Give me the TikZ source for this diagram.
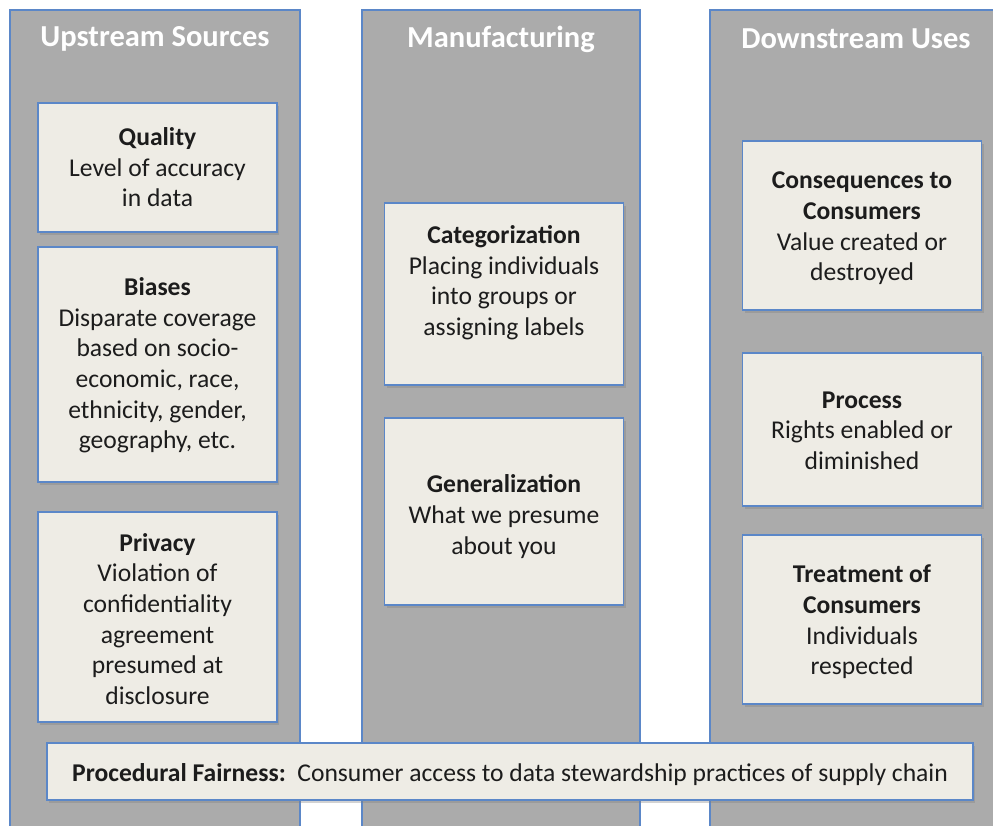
\documentclass[tikz,border=0pt]{standalone}
\usepackage{fontspec}
\setmainfont{Carlito}
\usetikzlibrary{shadows}
\definecolor{colgray}{HTML}{ABABAB}
\definecolor{cardfill}{HTML}{EEECE5}
\definecolor{edgeblue}{HTML}{5B87C8}
\definecolor{inktext}{HTML}{1C1C1C}
\begin{document}
\begin{tikzpicture}[x=1pt,y=-1pt,
    column/.style={fill=colgray,draw=edgeblue,line width=1.8pt},
    coltitle/.style={text=white,font=\fontsize{30.5}{34}\selectfont\bfseries},
    card/.style={rectangle,fill=cardfill,draw=edgeblue,line width=1.8pt,minimum width=239pt,
        drop shadow={shadow xshift=2pt,shadow yshift=-3pt,opacity=0.35}},
    cardtext/.style={align=center,text=inktext,font=\fontsize{25.6}{30.6}\selectfont}]
    \useasboundingbox (0,0) rectangle (993,826);
    \clip (0,0) rectangle (993,826);
    \fill[white](0,0)rectangle(993,826);
    % three stages of the chain
    \draw[column](10,10)rectangle(300,850);
    \draw[column](362,10)rectangle(640,850);
    \draw[column](710,10)rectangle(1010,850);
    \node[coltitle](up)at(155,39){Upstream Sources};
    \node[coltitle](mid)at(501,39){Manufacturing};
    \node[coltitle](down)at(856,39){Downstream Uses};
    % upstream
    \node[card,minimum height=129pt](quality)at(157.5,167.5){};
    \node[cardtext](quality-t)at(quality){\textbf{Quality}\\Level of accuracy\\in data};
    \node[card,minimum height=235pt](biases)at(157.5,364.5){};
    \node[cardtext](biases-t)at([yshift=-1pt]biases.center){\textbf{Biases}\\Disparate coverage\\based on socio-\\economic, race,\\ethnicity, gender,\\geography, etc.};
    \node[card,minimum height=210pt](privacy)at(157.5,617){};
    \node[cardtext](privacy-t)at([yshift=-2pt]privacy.center){\textbf{Privacy}\\Violation of\\confidentiality\\agreement\\presumed at\\disclosure};
    % manufacturing
    \node[card,minimum height=182pt](categ)at(504,294){};
    \node[cardtext](categ-t)at([yshift=11.5pt]categ.center){\textbf{Categorization}\\Placing individuals\\into groups or\\assigning labels};
    \node[card,minimum height=187pt](general)at(504,511.5){};
    \node[cardtext](general-t)at([yshift=-5pt]general.center){\textbf{Generalization}\\What we presume\\about you};
    % downstream
    \node[card,minimum height=169pt](conseq)at(862,225.5){};
    \node[cardtext](conseq-t)at([yshift=-3pt]conseq.center){\textbf{Consequences to}\\\textbf{Consumers}\\Value created or\\destroyed};
    \node[card,minimum height=153pt](process)at(862,429.5){};
    \node[cardtext](process-t)at([yshift=-1pt]process.center){\textbf{Process}\\Rights enabled or\\diminished};
    \node[card,minimum height=169pt](treat)at(862,619.5){};
    \node[cardtext](treat-t)at([yshift=-2.5pt]treat.center){\textbf{Treatment of}\\\textbf{Consumers}\\Individuals\\respected};
    \node[card,minimum width=926pt,minimum height=57pt](fair)at(510,771.5){};
    \node[cardtext](fair-t)at([yshift=-3pt]fair.center){\textbf{Procedural Fairness:}\ \ Consumer access to data stewardship practices of supply chain};
\end{tikzpicture}
\end{document}
